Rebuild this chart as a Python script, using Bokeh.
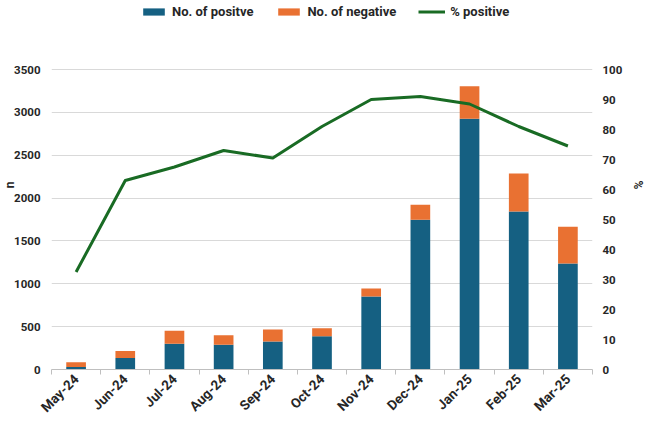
from math import pi

from bokeh.plotting import figure
from bokeh.models import (Range1d, LinearAxis, FixedTicker, Legend, LegendItem,
                          ColumnDataSource)
from bokeh.embed import file_html
from bokeh.resources import INLINE

# Monthly test counts and share of positive results
months = ["May-24", "Jun-24", "Jul-24", "Aug-24", "Sep-24", "Oct-24",
          "Nov-24", "Dec-24", "Jan-25", "Feb-25", "Mar-25"]
positive = [28, 135, 300, 288, 327, 389, 852, 1746, 2925, 1843, 1237]
negative = [57, 80, 151, 112, 140, 93, 93, 175, 381, 444, 428]
pct_positive = [32.5, 63.0, 67.5, 73.0, 70.5, 81.0, 90.0, 91.0, 88.5, 81.0, 74.5]
count_ticks = [0, 500, 1000, 1500, 2000, 2500, 3000, 3500]
pct_ticks = [0, 10, 20, 30, 40, 50, 60, 70, 80, 90, 100]

BLUE = "#156082"
ORANGE = "#E97132"
GREEN = "#196B24"
TEXT = "#262626"
FONT = "Roboto"

# The frame reaches up to the legend row; the gridded region stops at 3500 / 100 %
TOP_PAD = 369 / 300
xs = list(range(len(months)))
src = ColumnDataSource(dict(x=xs, pos=positive, neg=negative, pct=pct_positive))

p = figure(width=650, height=423, output_backend="svg", toolbar_location=None,
           x_range=Range1d(-0.5, len(months) - 0.5),
           y_range=Range1d(0, count_ticks[-1] * TOP_PAD),
           min_border_left=49, min_border_right=58, min_border_top=0,
           min_border_bottom=54)
p.outline_line_color = None
p.background_fill_color = "white"
p.border_fill_color = "white"

p.extra_y_ranges = {"pct": Range1d(0, pct_ticks[-1] * TOP_PAD)}

bars = p.vbar_stack(["pos", "neg"], x="x", width=0.4, color=[BLUE, ORANGE],
                    line_color=None, source=src)
line = p.line("x", "pct", source=src, y_range_name="pct", line_width=3,
              line_color=GREEN, line_join="round")

# x axis: labels at month centres, small ticks at the category borders
xa = p.xaxis[0]
xa.ticker = FixedTicker(ticks=xs, minor_ticks=[i - 0.5 for i in range(len(months) + 1)])
xa.major_label_overrides = {i: m for i, m in enumerate(months)}
xa.major_label_orientation = pi / 4
xa.major_tick_out = 0
xa.major_tick_in = 0
xa.minor_tick_out = 5
xa.minor_tick_in = 0
xa.minor_tick_line_color = "#bfbfbf"
xa.axis_line_color = "#bfbfbf"
xa.major_label_text_font = FONT
xa.major_label_text_font_style = "bold"
xa.major_label_text_font_size = "13.5px"
xa.major_label_text_color = TEXT
xa.major_label_standoff = 2

# left axis (counts)
ya = p.yaxis[0]
ya.ticker = FixedTicker(ticks=count_ticks)
ya.axis_line_color = None
ya.major_tick_line_color = None
ya.major_tick_out = 0
ya.major_tick_in = 0
ya.minor_tick_line_color = None
ya.minor_tick_out = 0
ya.major_label_text_font = FONT
ya.major_label_text_font_style = "bold"
ya.major_label_text_font_size = "11.5px"
ya.major_label_text_color = TEXT
ya.major_label_standoff = 11
ya.axis_label = "n"
ya.axis_label_text_font = FONT
ya.axis_label_text_font_style = "bold"
ya.axis_label_text_font_size = "12px"
ya.axis_label_text_line_height = 1.0
ya.axis_label_text_color = TEXT
ya.axis_label_standoff = -6

# right axis (percent)
ra = LinearAxis(y_range_name="pct", ticker=FixedTicker(ticks=pct_ticks))
ra.axis_line_color = None
ra.major_tick_line_color = None
ra.major_tick_out = 0
ra.major_tick_in = 0
ra.minor_tick_line_color = None
ra.minor_tick_out = 0
ra.major_label_text_font = FONT
ra.major_label_text_font_style = "bold"
ra.major_label_text_font_size = "11.5px"
ra.major_label_text_color = TEXT
ra.major_label_standoff = 10
ra.axis_label = "%"
ra.axis_label_text_font = FONT
ra.axis_label_text_font_style = "bold"
ra.axis_label_text_font_size = "12px"
ra.axis_label_text_line_height = 1.0
ra.axis_label_text_color = TEXT
ra.axis_label_standoff = 6
p.add_layout(ra, "right")

p.xgrid.grid_line_color = None
p.ygrid.grid_line_color = "#d9d9d9"
p.ygrid.grid_line_width = 1

legend = Legend(items=[LegendItem(label="No. of positve", renderers=[bars[0]]),
                       LegendItem(label="No. of negative", renderers=[bars[1]]),
                       LegendItem(label="% positive", renderers=[line])],
                orientation="horizontal", location=(89, 350),
                padding=0, margin=0, spacing=22, glyph_width=27, glyph_height=9,
                label_standoff=5, label_text_font=FONT, label_text_font_style="bold",
                label_text_font_size="13px", label_text_color=TEXT,
                background_fill_alpha=0, border_line_color=None)
p.add_layout(legend, "center")

open("out.html", "w").write(file_html(p, INLINE))
